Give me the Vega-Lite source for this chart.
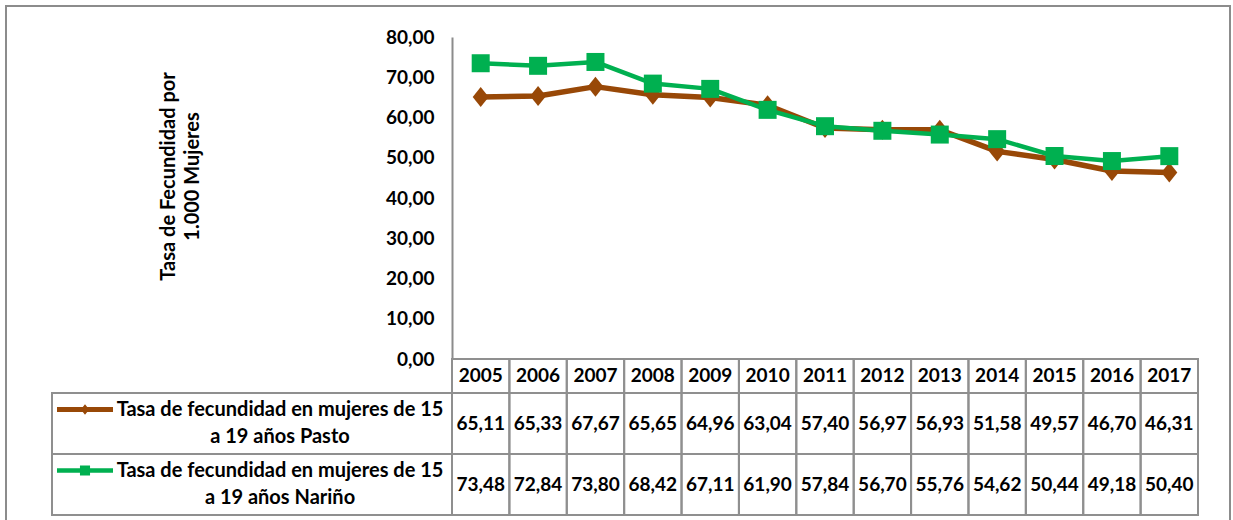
{
  "$schema": "https://vega.github.io/schema/vega-lite/v6.json",
  "width": 1233,
  "height": 520,
  "autosize": {"type": "fit", "contains": "padding"},
  "padding": {"left": 6, "top": 6, "right": 3, "bottom": -8},
  "config": {
    "font": "Lato",
    "view": {"stroke": "#8c8c8c", "strokeWidth": 2},
    "axis": {"grid": false},
    "locale": {"number": {"decimal": ",", "thousands": ".", "grouping": [3], "currency": ["$", ""]}}
  },
  "datasets": {
    "tasas": [
      {"anio": "2005", "serie": "Pasto", "valor": 65.11},
      {"anio": "2006", "serie": "Pasto", "valor": 65.33},
      {"anio": "2007", "serie": "Pasto", "valor": 67.67},
      {"anio": "2008", "serie": "Pasto", "valor": 65.65},
      {"anio": "2009", "serie": "Pasto", "valor": 64.96},
      {"anio": "2010", "serie": "Pasto", "valor": 63.04},
      {"anio": "2011", "serie": "Pasto", "valor": 57.40},
      {"anio": "2012", "serie": "Pasto", "valor": 56.97},
      {"anio": "2013", "serie": "Pasto", "valor": 56.93},
      {"anio": "2014", "serie": "Pasto", "valor": 51.58},
      {"anio": "2015", "serie": "Pasto", "valor": 49.57},
      {"anio": "2016", "serie": "Pasto", "valor": 46.70},
      {"anio": "2017", "serie": "Pasto", "valor": 46.31},
      {"anio": "2005", "serie": "Nariño", "valor": 73.48},
      {"anio": "2006", "serie": "Nariño", "valor": 72.84},
      {"anio": "2007", "serie": "Nariño", "valor": 73.80},
      {"anio": "2008", "serie": "Nariño", "valor": 68.42},
      {"anio": "2009", "serie": "Nariño", "valor": 67.11},
      {"anio": "2010", "serie": "Nariño", "valor": 61.90},
      {"anio": "2011", "serie": "Nariño", "valor": 57.84},
      {"anio": "2012", "serie": "Nariño", "valor": 56.70},
      {"anio": "2013", "serie": "Nariño", "valor": 55.76},
      {"anio": "2014", "serie": "Nariño", "valor": 54.62},
      {"anio": "2015", "serie": "Nariño", "valor": 50.44},
      {"anio": "2016", "serie": "Nariño", "valor": 49.18},
      {"anio": "2017", "serie": "Nariño", "valor": 50.40}
    ],
    "leyenda": [
      {"serie": "Pasto", "etiqueta": "Tasa de fecundidad en mujeres de 15\na 19 años Pasto"},
      {"serie": "Nariño", "etiqueta": "Tasa de fecundidad en mujeres de 15\na 19 años Nariño"}
    ]
  },
  "resolve": {"scale": {"x": "independent", "y": "independent"}, "axis": {"x": "independent", "y": "independent"}},
  "layer": [
    {
      "data": {"name": "tasas"},
      "transform": [{"filter": "datum.serie === 'Pasto'"}],
      "mark": {"type": "line", "color": "#984807", "strokeWidth": 5.5, "strokeJoin": "round", "strokeCap": "round"},
      "encoding": {
        "x": {"field": "anio", "type": "ordinal", "scale": {"type": "point", "padding": 0.5, "range": [446, 1192]}, "axis": null},
        "y": {"field": "valor", "type": "quantitative", "scale": {"domain": [0, 80], "range": [353, 31], "nice": false, "zero": false},
          "axis": {
            "values": [0, 10, 20, 30, 40, 50, 60, 70, 80],
            "format": ".2f",
            "labelFont": "Lato", "labelFontSize": 19, "labelFontWeight": "bold", "labelColor": "#000000",
            "labelPadding": 18, "ticks": false, "grid": false,
            "domainColor": "#8c8c8c", "domainWidth": 2, "offset": -446,
            "title": ["Tasa de Fecundidad por", "1.000 Mujeres"],
            "titleFont": "Lato", "titleFontSize": 20, "titleFontWeight": "bold", "titleColor": "#000000",
            "titleAngle": -90, "titleX": -284, "titleY": 170, "titleAlign": "center", "titleBaseline": "middle", "titleLineHeight": 24
          }
        }
      }
    },
    {
      "data": {"name": "tasas"},
      "transform": [{"filter": "datum.serie === 'Pasto'"}],
      "mark": {"type": "point", "shape": "M0,-1L0.8,0L0,1L-0.8,0Z", "filled": true, "opacity": 1, "color": "#984807", "size": 400},
      "encoding": {
        "x": {"field": "anio", "type": "ordinal", "scale": {"type": "point", "padding": 0.5, "range": [446, 1192]}, "axis": null},
        "y": {"field": "valor", "type": "quantitative", "scale": {"domain": [0, 80], "range": [353, 31], "nice": false, "zero": false}, "axis": null}
      }
    },
    {
      "data": {"name": "tasas"},
      "transform": [{"filter": "datum.serie === 'Nariño'"}],
      "mark": {"type": "line", "color": "#00B050", "strokeWidth": 4.5, "strokeJoin": "round", "strokeCap": "round"},
      "encoding": {
        "x": {"field": "anio", "type": "ordinal", "scale": {"type": "point", "padding": 0.5, "range": [446, 1192]}, "axis": null},
        "y": {"field": "valor", "type": "quantitative", "scale": {"domain": [0, 80], "range": [353, 31], "nice": false, "zero": false}, "axis": null}
      }
    },
    {
      "data": {"name": "tasas"},
      "transform": [{"filter": "datum.serie === 'Nariño'"}],
      "mark": {"type": "point", "shape": "square", "filled": true, "opacity": 1, "color": "#00B050", "size": 324},
      "encoding": {
        "x": {"field": "anio", "type": "ordinal", "scale": {"type": "point", "padding": 0.5, "range": [446, 1192]}, "axis": null},
        "y": {"field": "valor", "type": "quantitative", "scale": {"domain": [0, 80], "range": [353, 31], "nice": false, "zero": false}, "axis": null}
      }
    },
    {
      "data": {"name": "tasas"},
      "transform": [{"filter": "datum.serie === 'Pasto'"}],
      "mark": {"type": "rect", "fill": "#ffffff", "fillOpacity": 0, "stroke": "#8f8f8f", "strokeWidth": 2},
      "encoding": {
        "x": {"field": "anio", "type": "ordinal", "scale": {"type": "band", "paddingInner": 0, "paddingOuter": 0, "range": [446, 1192]}, "axis": null},
        "y": {"datum": "Año", "type": "ordinal", "scale": {"type": "band", "domain": ["Año"], "paddingInner": 0, "paddingOuter": 0, "range": [353, 387]}, "axis": null}
      }
    },
    {
      "data": {"name": "tasas"},
      "transform": [{"filter": "datum.serie === 'Pasto'"}],
      "mark": {"type": "text", "font": "Lato", "fontSize": 19, "fontWeight": "bold", "color": "#000000", "align": "center", "baseline": "middle"},
      "encoding": {
        "x": {"field": "anio", "type": "ordinal", "scale": {"type": "point", "padding": 0.5, "range": [446, 1192]}, "axis": null},
        "y": {"datum": "Año", "type": "ordinal", "scale": {"type": "point", "domain": ["Año"], "padding": 0.5, "range": [353, 387]}, "axis": null},
        "text": {"field": "anio", "type": "nominal"}
      }
    },
    {
      "data": {"name": "tasas"},
      "mark": {"type": "rect", "fill": "#ffffff", "fillOpacity": 0, "stroke": "#8f8f8f", "strokeWidth": 2},
      "encoding": {
        "x": {"field": "anio", "type": "ordinal", "scale": {"type": "band", "paddingInner": 0, "paddingOuter": 0, "range": [446, 1192]}, "axis": null},
        "y": {"field": "serie", "type": "nominal", "scale": {"type": "band", "domain": ["Pasto", "Nariño"], "paddingInner": 0, "paddingOuter": 0, "range": [387, 509]}, "axis": null}
      }
    },
    {
      "data": {"name": "tasas"},
      "mark": {"type": "text", "font": "Lato", "fontSize": 19, "fontWeight": "bold", "color": "#000000", "align": "center", "baseline": "middle"},
      "encoding": {
        "x": {"field": "anio", "type": "ordinal", "scale": {"type": "point", "padding": 0.5, "range": [446, 1192]}, "axis": null},
        "y": {"field": "serie", "type": "nominal", "scale": {"type": "point", "domain": ["Pasto", "Nariño"], "padding": 0.5, "range": [387, 509]}, "axis": null},
        "text": {"field": "valor", "type": "quantitative", "format": ".2f"}
      }
    },
    {
      "data": {"name": "leyenda"},
      "mark": {"type": "rect", "fill": "#ffffff", "fillOpacity": 0, "stroke": "#8f8f8f", "strokeWidth": 2},
      "encoding": {
        "x": {"datum": "leyenda", "type": "ordinal", "scale": {"type": "band", "domain": ["leyenda"], "paddingInner": 0, "paddingOuter": 0, "range": [46, 446]}, "axis": null},
        "y": {"field": "serie", "type": "nominal", "scale": {"type": "band", "domain": ["Pasto", "Nariño"], "paddingInner": 0, "paddingOuter": 0, "range": [387, 509]}, "axis": null}
      }
    },
    {
      "data": {"name": "leyenda"},
      "mark": {"type": "point", "filled": true, "opacity": 1, "size": 3136, "xOffset": -167, "yOffset": -14, "strokeWidth": 0},
      "encoding": {
        "x": {"datum": "leyenda", "type": "ordinal", "scale": {"type": "point", "domain": ["leyenda"], "padding": 0.5, "range": [46, 446]}, "axis": null},
        "y": {"field": "serie", "type": "nominal", "scale": {"type": "point", "domain": ["Pasto", "Nariño"], "padding": 0.5, "range": [387, 509]}, "axis": null},
        "shape": {"field": "serie", "type": "nominal", "scale": {"domain": ["Pasto", "Nariño"], "range": ["M-1,-0.09H1V0.09H-1Z M-0.15,0L0,-0.19L0.15,0L0,0.19Z", "M-1,-0.08H1V0.08H-1Z M-0.18,-0.18H0.18V0.18H-0.18Z"]}, "legend": null},
        "color": {"field": "serie", "type": "nominal", "scale": {"domain": ["Pasto", "Nariño"], "range": ["#984807", "#00B050"]}, "legend": null}
      }
    },
    {
      "data": {"name": "leyenda"},
      "mark": {"type": "text", "font": "Lato", "fontSize": 20, "fontWeight": "bold", "color": "#000000", "align": "center", "baseline": "middle", "lineBreak": "\n", "lineHeight": 27, "dx": 28, "dy": -13.5},
      "encoding": {
        "x": {"datum": "leyenda", "type": "ordinal", "scale": {"type": "point", "domain": ["leyenda"], "padding": 0.5, "range": [46, 446]}, "axis": null},
        "y": {"field": "serie", "type": "nominal", "scale": {"type": "point", "domain": ["Pasto", "Nariño"], "padding": 0.5, "range": [387, 509]}, "axis": null},
        "text": {"field": "etiqueta", "type": "nominal"}
      }
    }
  ]
}
